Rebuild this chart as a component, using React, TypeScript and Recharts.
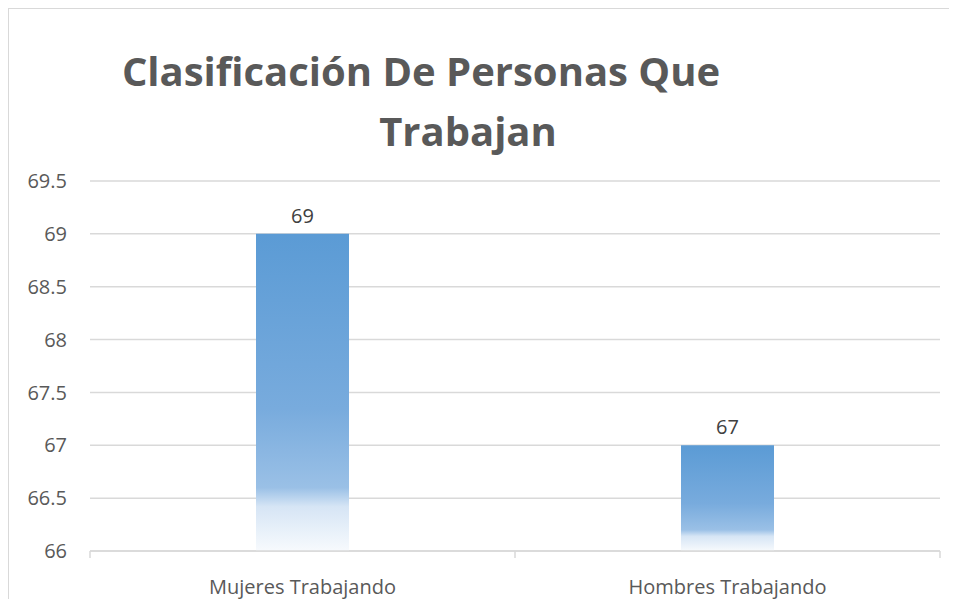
import React from "react";
import { BarChart, Bar, XAxis, YAxis, CartesianGrid, LabelList } from "recharts";

const categories = ["Mujeres Trabajando", "Hombres Trabajando"];
const values = [69, 67];
const yTicks = [66, 66.5, 67, 67.5, 68, 68.5, 69, 69.5];
const titleLines = ["Clasificación De Personas Que", "Trabajan"];

const data = categories.map((c, i) => ({ name: c, value: values[i] }));

const FONT = "'Open Sans', 'Noto Sans', sans-serif";
const TICK_MARGIN = 29;
const EDGE_TICK = 7;

const CategoryTick = (props: any) => {
  const { x, y, payload, index } = props;
  const half = payload && payload.offset ? payload.offset : 0;
  const axisY = y - TICK_MARGIN;
  return (
    <g>
      {index === 0 && (
        <line x1={x - half} x2={x - half} y1={axisY} y2={axisY + EDGE_TICK} stroke="#d9d9d9" strokeWidth={1.5} />
      )}
      <line x1={x + half} x2={x + half} y1={axisY} y2={axisY + EDGE_TICK} stroke="#d9d9d9" strokeWidth={1.5} />
      <text x={x} y={y} dy="0.71em" textAnchor="middle" fill="#595959" fontSize={20} fontFamily={FONT}>
        {payload.value}
      </text>
    </g>
  );
};

export default function App() {
  return (
    <div
      style={{
        position: "relative",
        width: 940,
        height: 590,
        borderTop: "1px solid #d9d9d9",
        borderLeft: "1px solid #d9d9d9",
        fontFamily: FONT,
        background: "#fff",
        overflow: "hidden",
      }}
    >
      <style>{"html,body{overflow:hidden;}"}</style>
      <svg width={940} height={160} style={{ position: "absolute", left: 0, top: 0 }}>
        <text x={412} y={77} textAnchor="middle" fontSize={40} fontWeight={700} fill="#595959" fontFamily={FONT}>
          {titleLines[0]}
        </text>
        <text x={459} y={137} textAnchor="middle" fontSize={40} fontWeight={700} fill="#595959" fontFamily={FONT}>
          {titleLines[1]}
        </text>
      </svg>
      <BarChart
        width={940}
        height={590}
        data={data}
        margin={{ top: 172, right: 9, bottom: 18, left: 21 }}
        barCategoryGap={0}
      >
        <defs>
          <linearGradient id="barGrad" x1="0" y1="0" x2="0" y2="1">
            <stop offset="0" stopColor="#5b9bd5" />
            <stop offset="0.55" stopColor="#78abdd" />
            <stop offset="0.8" stopColor="#9ac0e6" />
            <stop offset="0.86" stopColor="#d6e5f5" />
            <stop offset="1" stopColor="#f7fafd" />
          </linearGradient>
        </defs>
        <CartesianGrid horizontal vertical={false} stroke="#d9d9d9" strokeWidth={1.5} />
        <XAxis
          dataKey="name"
          height={30}
          axisLine={{ stroke: "#d9d9d9", strokeWidth: 1.5 }}
          tickLine={false}
          tickSize={0}
          tickMargin={TICK_MARGIN}
          tick={CategoryTick}
        />
        <YAxis
          domain={[66, 69.5]}
          ticks={yTicks}
          width={60}
          axisLine={false}
          tickLine={false}
          tickSize={0}
          tickMargin={23}
          tick={{ fill: "#595959", fontSize: 20, fontFamily: FONT }}
        />
        <Bar dataKey="value" fill="url(#barGrad)" barSize={93} isAnimationActive={false}>
          <LabelList
            dataKey="value"
            position="top"
            offset={11}
            style={{ fill: "#404040", fontSize: 20, fontFamily: FONT }}
          />
        </Bar>
      </BarChart>
    </div>
  );
}
